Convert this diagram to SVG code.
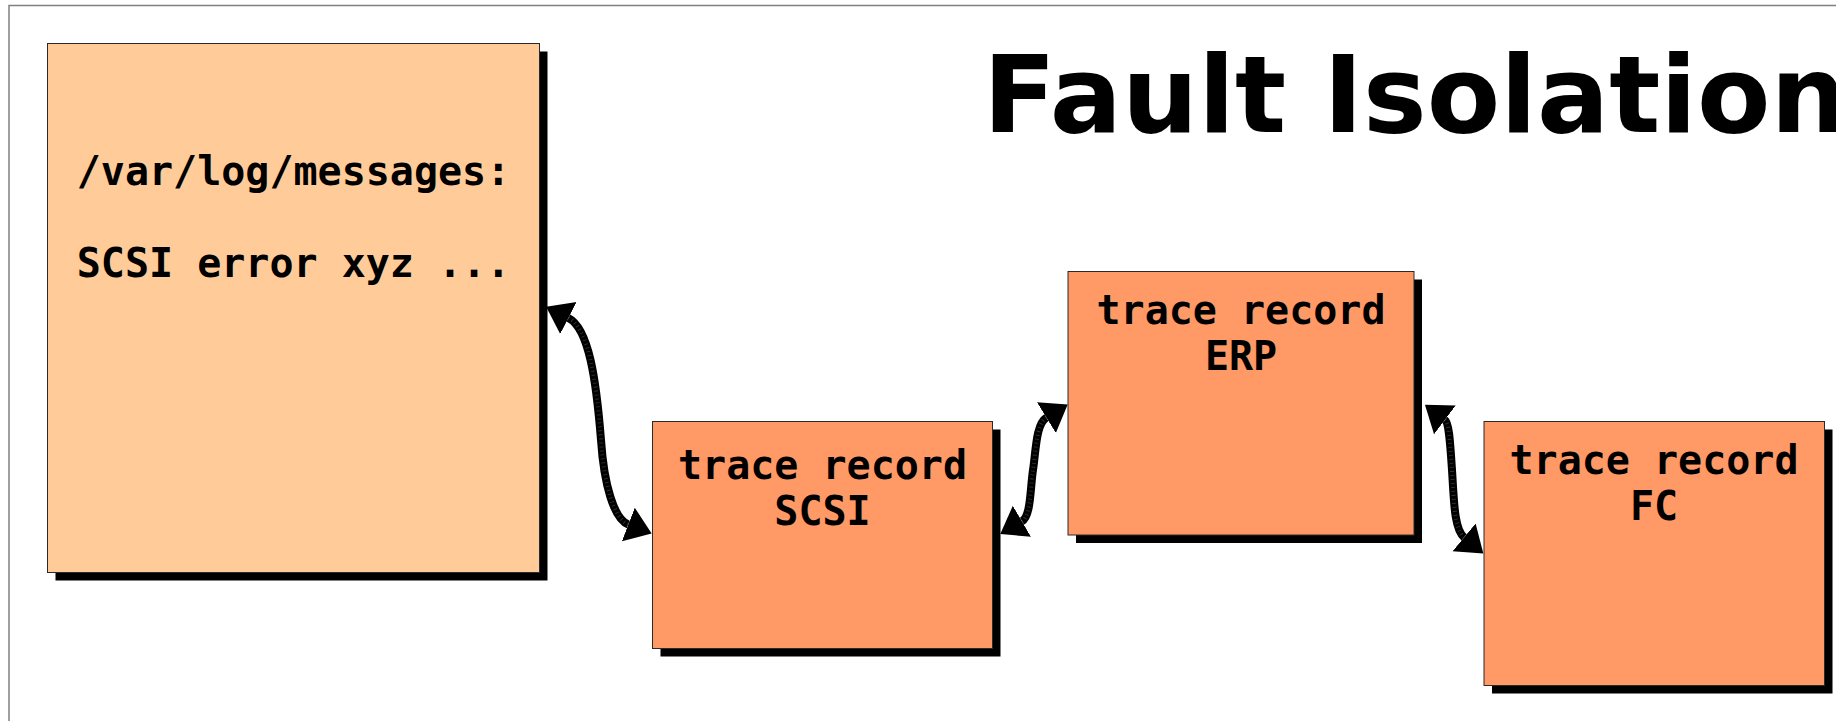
<svg xmlns="http://www.w3.org/2000/svg" xmlns:xlink="http://www.w3.org/1999/xlink" width="1836" height="721" viewBox="0 0 1836 721">
<style>
.frame{fill:none;stroke:#808080;stroke-width:1.5}
.shadow{fill:#000}
.box1{fill:#ffcc99;stroke:#2a2a2a;stroke-width:1}
.box2{fill:#ff9966;stroke:#2a2a2a;stroke-width:1}
.mono{font-family:"DejaVu Sans Mono","Liberation Mono",monospace;font-weight:bold;font-size:40px;fill:#000;text-anchor:middle}
.title{font-family:"DejaVu Sans","Liberation Sans",sans-serif;font-weight:bold;font-size:107px;fill:#000}
.conn{fill:none;stroke:#000;stroke-width:8}
.tick{fill:none;stroke:#777;stroke-width:4;stroke-dasharray:0.8 3.2;stroke-opacity:0.45}
</style>
<defs>
<marker id="head" markerUnits="userSpaceOnUse" markerWidth="26" markerHeight="38" viewBox="0 -19 26 38" refX="0" refY="0" orient="auto-start-reverse">
<path d="M0,-18 L25,0 L0,18 z" fill="#000"/>
</marker>
<path id="c1" d="M568.4,318 C589,328.5 596.2,380 601,440 C604,485 614,519 628.3,524.5"/>
<path id="c2" d="M1021.9,521.3 C1031,516 1030,490 1033,470 C1036,450 1036,424 1046.4,417.6"/>
<path id="c3" d="M1444.9,419.9 C1449,423 1450,440 1452,470 C1454,500 1454,529 1464.1,537.4"/>
</defs>
<path class="frame" d="M9,721 V5.5 H1836"/>
<text class="title" x="983" y="132">Fault Isolation</text>
<g id="log">
<rect class="shadow" x="55.5" y="51.5" width="492" height="529"/>
<rect class="box1" x="47.5" y="43.5" width="492" height="529"/>
<text class="mono" x="293.5" y="185">/var/log/messages:</text>
<text class="mono" x="293.5" y="277">SCSI error xyz ...</text>
</g>
<g id="scsi">
<rect class="shadow" x="660.5" y="429.5" width="340" height="227"/>
<rect class="box2" x="652.5" y="421.5" width="340" height="227"/>
<text class="mono" x="822.5" y="478.5">trace record</text>
<text class="mono" x="822.5" y="524.5">SCSI</text>
</g>
<g id="erp">
<rect class="shadow" x="1076" y="279.5" width="346" height="263.5"/>
<rect class="box2" x="1068" y="271.5" width="346" height="263.5"/>
<text class="mono" x="1241" y="324">trace record</text>
<text class="mono" x="1241" y="370">ERP</text>
</g>
<g id="fc">
<rect class="shadow" x="1492" y="429.5" width="340.5" height="264"/>
<rect class="box2" x="1484" y="421.5" width="340.5" height="264"/>
<text class="mono" x="1654" y="473.5">trace record</text>
<text class="mono" x="1654" y="520">FC</text>
</g>
<g id="connectors">
<use xlink:href="#c1" class="conn" marker-start="url(#head)" marker-end="url(#head)"/>
<use xlink:href="#c1" class="tick"/>
<use xlink:href="#c2" class="conn" marker-start="url(#head)" marker-end="url(#head)"/>
<use xlink:href="#c2" class="tick"/>
<use xlink:href="#c3" class="conn" marker-start="url(#head)" marker-end="url(#head)"/>
<use xlink:href="#c3" class="tick"/>
</g>
</svg>
